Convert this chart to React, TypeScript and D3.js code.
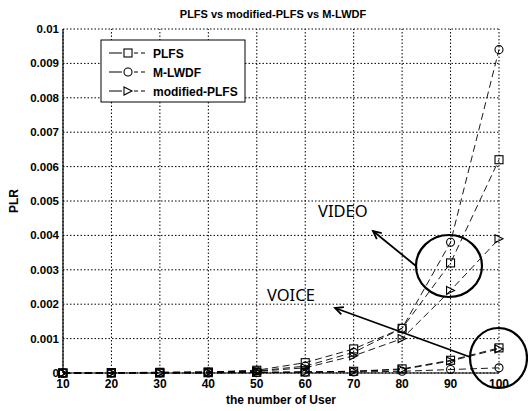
import React from "react";
import * as d3 from "d3";

const users = [10, 20, 30, 40, 50, 60, 70, 80, 90, 100];
const plfsVideo = [0, 0.00001, 0.00002, 0.00003, 0.00008, 0.0003, 0.0007, 0.0013, 0.0032, 0.0062];
const mlwdfVideo = [0, 0.00001, 0.00002, 0.00003, 0.00006, 0.0002, 0.0006, 0.0013, 0.0038, 0.0094];
const modVideo = [0, 0.00001, 0.00001, 0.00002, 0.00005, 0.00015, 0.0005, 0.001, 0.0024, 0.0039];
const plfsVoice = [0, 0, 0, 0.00001, 0.00002, 0.00003, 0.00005, 0.00012, 0.00037, 0.00073];
const mlwdfVoice = [0, 0, 0, 0, 0.00001, 0.00002, 0.00003, 0.00005, 0.0001, 0.00015];
const modVoice = [0, 0, 0, 0.00001, 0.00002, 0.00003, 0.00005, 0.0001, 0.00035, 0.0007];
const xTicks = [10, 20, 30, 40, 50, 60, 70, 80, 90, 100];
const yTicks = [0, 0.001, 0.002, 0.003, 0.004, 0.005, 0.006, 0.007, 0.008, 0.009, 0.01];
const yTickLabels = ["0", "0.001", "0.002", "0.003", "0.004", "0.005", "0.006", "0.007", "0.008", "0.009", "0.01"];
const legendNames = ["PLFS", "M-LWDF", "modified-PLFS"];
const legendMarkers = ["square", "circle", "triangle"];

const series = [
  { values: plfsVideo, marker: "square" },
  { values: mlwdfVideo, marker: "circle" },
  { values: modVideo, marker: "triangle" },
  { values: plfsVoice, marker: "square" },
  { values: mlwdfVoice, marker: "circle" },
  { values: modVoice, marker: "triangle" },
];

const W = 528, H = 411;
const x = d3.scaleLinear().domain([10, 100]).range([63, 499]);
const y = d3.scaleLinear().domain([0, 0.01]).range([373, 29]);
const font = "'Liberation Sans', Arial, sans-serif";

function Marker({ type, cx, cy }: { type: string; cx: number; cy: number }) {
  const s = 4;
  if (type === "square")
    return <rect x={cx - s} y={cy - s} width={2 * s} height={2 * s} fill="none" stroke="#000" strokeWidth={1.1} />;
  if (type === "circle") return <circle cx={cx} cy={cy} r={s} fill="none" stroke="#000" strokeWidth={1.1} />;
  return (
    <polygon
      points={`${cx - s},${cy - s} ${cx + s},${cy} ${cx - s},${cy + s}`}
      fill="none"
      stroke="#000"
      strokeWidth={1.1}
    />
  );
}

export default function App() {
  const line = d3
    .line<number>()
    .x((_, i) => x(users[i]))
    .y((d) => y(d));

  const arrowHead = (x1: number, y1: number, x2: number, y2: number) => {
    const a = Math.atan2(y2 - y1, x2 - x1);
    const L = 9, w = 0.45;
    const p1 = [x2 - L * Math.cos(a - w), y2 - L * Math.sin(a - w)];
    const p2 = [x2 - L * Math.cos(a + w), y2 - L * Math.sin(a + w)];
    return `M${p1[0]},${p1[1]} L${x2},${y2} L${p2[0]},${p2[1]}`;
  };

  const legendY = [53, 72, 91];

  return (
    <svg width={W} height={H} style={{ position: "absolute", left: 0, top: 0, background: "#fff" }}>
      <rect x={0} y={0} width={W} height={H} fill="#fff" />
      {/* grid */}
      {xTicks.map((t) => (
        <line key={"gx" + t} x1={x(t)} x2={x(t)} y1={y(0)} y2={y(0.01)} stroke="#000" strokeWidth={1} strokeDasharray="1.5,2" />
      ))}
      {yTicks.map((t) => (
        <line key={"gy" + t} x1={x(10)} x2={x(100)} y1={y(t)} y2={y(t)} stroke="#000" strokeWidth={1} strokeDasharray="1.5,2" />
      ))}
      {/* axes */}
      <line x1={x(10)} x2={x(10)} y1={y(0)} y2={y(0.01)} stroke="#000" strokeWidth={1.2} />
      <line x1={x(10)} x2={x(100)} y1={y(0)} y2={y(0)} stroke="#000" strokeWidth={1.2} />
      {xTicks.map((t) => (
        <text key={"xt" + t} x={x(t)} y={388} textAnchor="middle" fontFamily={font} fontWeight="bold" fontSize={12}>
          {t}
        </text>
      ))}
      {yTicks.map((t, i) => (
        <text key={"yt" + t} x={59} y={y(t) + 4} textAnchor="end" fontFamily={font} fontWeight="bold" fontSize={11.5}>
          {yTickLabels[i]}
        </text>
      ))}
      {/* series */}
      {series.map((s, si) => (
        <g key={"s" + si}>
          <path d={line(s.values) || ""} fill="none" stroke="#000" strokeWidth={0.9} strokeDasharray="7,4" />
          {s.values.map((v, i) => (
            <Marker key={i} type={s.marker} cx={x(users[i])} cy={y(v)} />
          ))}
        </g>
      ))}
      {/* title and labels */}
      <text x={273} y={18} textAnchor="middle" fontFamily={font} fontWeight="bold" fontSize={11}>
        PLFS vs modified-PLFS vs M-LWDF
      </text>
      <text x={281} y={404} textAnchor="middle" fontFamily={font} fontWeight="bold" fontSize={12}>
        the number of User
      </text>
      <text transform="translate(18,201) rotate(-90)" textAnchor="middle" fontFamily={font} fontWeight="bold" fontSize={12}>
        PLR
      </text>
      {/* legend */}
      <rect x={101} y={40} width={144} height={62} fill="#fff" stroke="#000" strokeWidth={1} />
      {legendNames.map((n, i) => (
        <g key={"lg" + i}>
          <line x1={109} x2={122} y1={legendY[i]} y2={legendY[i]} stroke="#000" strokeWidth={1} />
          <line x1={134} x2={148} y1={legendY[i]} y2={legendY[i]} stroke="#000" strokeWidth={1} strokeDasharray="4,3" />
          <Marker type={legendMarkers[i]} cx={128} cy={legendY[i]} />
          <text x={153} y={legendY[i] + 4.5} fontFamily={font} fontWeight="bold" fontSize={12}>
            {n}
          </text>
        </g>
      ))}
      {/* annotations */}
      <ellipse cx={449} cy={266} rx={33} ry={31} fill="none" stroke="#000" strokeWidth={2.2} />
      <ellipse cx={498.5} cy={358} rx={28.5} ry={30} fill="none" stroke="#000" strokeWidth={2.2} />
      <line x1={416} y1={266} x2={373} y2={231} stroke="#000" strokeWidth={1.8} />
      <path d={arrowHead(416, 266, 373, 231)} fill="none" stroke="#000" strokeWidth={1.8} />
      <line x1={470} y1={357} x2={335} y2={308} stroke="#000" strokeWidth={1.8} />
      <path d={arrowHead(470, 357, 335, 308)} fill="none" stroke="#000" strokeWidth={1.8} />
      <text x={318} y={217} fontFamily="'Noto Sans', sans-serif" fontSize={16.5}>
        VIDEO
      </text>
      <text x={267} y={301} fontFamily="'Noto Sans', sans-serif" fontSize={16.5}>
        VOICE
      </text>
    </svg>
  );
}
